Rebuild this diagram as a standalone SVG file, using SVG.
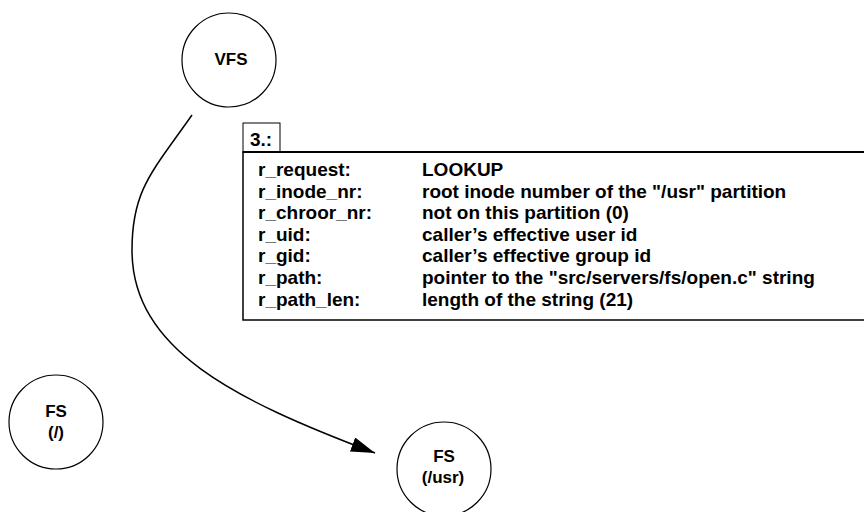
<svg xmlns="http://www.w3.org/2000/svg" width="864" height="512" viewBox="0 0 864 512">
<style>
.node circle{fill:#fff;stroke:#000;stroke-width:1.2}
.nt{font-family:"Liberation Sans",Arial,sans-serif;font-weight:bold;font-size:17px;fill:#000;text-anchor:middle}
.tt{font-family:"Liberation Sans",Arial,sans-serif;font-weight:bold;font-size:19px;fill:#000}
.conn path.c{fill:none;stroke:#000;stroke-width:1.5}
</style>
<defs>
<marker id="ah" markerUnits="userSpaceOnUse" markerWidth="26" markerHeight="16" refX="24" refY="7.5" orient="auto">
<path d="M0,0 L24,7.5 L0,15 z" fill="#000"/>
</marker>
</defs>
<rect width="864" height="512" fill="#fff"/>
<g id="node-vfs" class="node">
<circle cx="229" cy="60" r="47"/>
<text class="nt" x="231" y="65">VFS</text>
</g>
<g id="node-fs-root" class="node">
<circle cx="56" cy="422" r="47"/>
<text class="nt" x="56" y="417">FS</text>
<text class="nt" x="56" y="438">(/)</text>
</g>
<g id="node-fs-usr" class="node">
<circle cx="444" cy="469" r="47"/>
<text class="nt" x="444" y="462">FS</text>
<text class="nt" x="443" y="483">(/usr)</text>
</g>
<g id="message-box">
<rect x="243" y="152" width="640" height="168" fill="#fff" stroke="#000" stroke-width="1.5"/>
<rect x="243" y="123" width="37" height="29" fill="#fff" stroke="#000" stroke-width="1"/>
<line x1="243" y1="152" x2="864" y2="152" stroke="#000" stroke-width="1.8"/>
<text class="tt" x="250" y="146">3.:</text>
<text class="tt" x="258" y="176">r_request:</text>
<text class="tt" x="258" y="197.6">r_inode_nr:</text>
<text class="tt" x="258" y="219.2">r_chroor_nr:</text>
<text class="tt" x="258" y="240.8">r_uid:</text>
<text class="tt" x="258" y="262.4">r_gid:</text>
<text class="tt" x="258" y="284">r_path:</text>
<text class="tt" x="258" y="305.6">r_path_len:</text>
<text class="tt" x="422" y="176">LOOKUP</text>
<text class="tt" x="422" y="197.6">root inode number of the "/usr" partition</text>
<text class="tt" x="422" y="219.2">not on this partition (0)</text>
<text class="tt" x="422" y="240.8">caller’s effective user id</text>
<text class="tt" x="422" y="262.4">caller’s effective group id</text>
<text class="tt" x="422" y="284">pointer to the "src/servers/fs/open.c" string</text>
<text class="tt" x="422" y="305.6">length of the string (21)</text>
</g>
<g id="connectors" class="conn">
<path class="c" d="M192,115 C152,172 132,190 132,250 C132,350 235,400 375,453" marker-end="url(#ah)"/>
</g>
</svg>
